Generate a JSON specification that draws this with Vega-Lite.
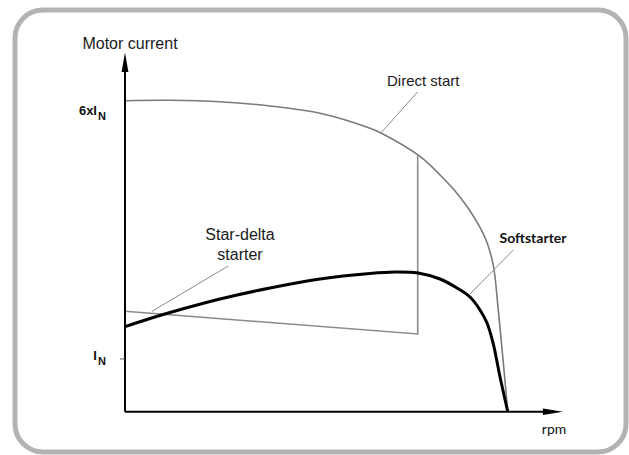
{
  "$schema": "https://vega.github.io/schema/vega-lite/v6.json",
  "width": 611,
  "height": 442,
  "autosize": {"type": "none"},
  "padding": {"left": 15, "top": 10, "right": 3, "bottom": 3},
  "background": "white",
  "config": {
    "view": {"stroke": "#b3b3b3", "strokeWidth": 5, "cornerRadius": 28, "fill": "white"},
    "text": {"font": "Liberation Sans"}
  },
  "datasets": {
    "direct": [
      {"rpm": 0, "current": 5.901},
      {"rpm": 11.76, "current": 5.909},
      {"rpm": 24.82, "current": 5.882},
      {"rpm": 37.89, "current": 5.801},
      {"rpm": 50.95, "current": 5.662},
      {"rpm": 64.02, "current": 5.378},
      {"rpm": 66.89, "current": 5.288},
      {"rpm": 77.08, "current": 4.843},
      {"rpm": 82.31, "current": 4.491},
      {"rpm": 86.23, "current": 4.188},
      {"rpm": 89.63, "current": 3.865},
      {"rpm": 92.24, "current": 3.562},
      {"rpm": 94.33, "current": 3.258},
      {"rpm": 95.38, "current": 3.03},
      {"rpm": 96.16, "current": 2.803},
      {"rpm": 96.68, "current": 2.556},
      {"rpm": 97.2, "current": 2.177},
      {"rpm": 97.99, "current": 1.588},
      {"rpm": 98.9, "current": 0.889},
      {"rpm": 100, "current": 0}
    ],
    "soft": [
      {"rpm": 0, "current": 1.613},
      {"rpm": 6.53, "current": 1.768},
      {"rpm": 11.76, "current": 1.882},
      {"rpm": 24.82, "current": 2.138},
      {"rpm": 37.89, "current": 2.347},
      {"rpm": 50.95, "current": 2.518},
      {"rpm": 64.02, "current": 2.623},
      {"rpm": 70.55, "current": 2.651},
      {"rpm": 76.56, "current": 2.632},
      {"rpm": 82.31, "current": 2.518},
      {"rpm": 86.75, "current": 2.347},
      {"rpm": 90.15, "current": 2.176},
      {"rpm": 92.76, "current": 1.93},
      {"rpm": 94.59, "current": 1.683},
      {"rpm": 96.16, "current": 1.304},
      {"rpm": 97.99, "current": 0.658},
      {"rpm": 100, "current": 0}
    ],
    "stardelta": [
      {"step": 1, "rpm": 0, "current": 1.905},
      {"step": 2, "rpm": 76.48, "current": 1.474},
      {"step": 3, "rpm": 76.48, "current": 4.86}
    ],
    "leaders": [
      {"label": "Direct start", "r1": 76.4, "i1": 6.066, "r2": 66.89, "i2": 5.288},
      {"label": "Star-delta starter", "r1": 26.99, "i1": 2.765, "r2": 6.98, "i2": 1.901},
      {"label": "Softstarter", "r1": 101.46, "i1": 3.068, "r2": 90.15, "i2": 2.233}
    ],
    "axes": [
      {"axis": "current", "r1": 0, "i1": 0, "r2": 0, "i2": 6.632},
      {"axis": "rpm", "r1": 0, "i1": 0, "r2": 111.8, "i2": 0}
    ]
  },
  "layer": [
    {
      "data": {"name": "direct"},
      "mark": {"type": "line", "color": "#7a7a7a", "strokeWidth": 1.6, "interpolate": "catmull-rom"},
      "encoding": {
        "x": {"field": "rpm", "type": "quantitative", "scale": {"domain": [-28.74, 130.9], "nice": false, "zero": false}, "axis": null},
        "y": {"field": "current", "type": "quantitative", "scale": {"domain": [-0.765, 7.622], "nice": false, "zero": false}, "axis": null}
      }
    },
    {
      "data": {"name": "stardelta"},
      "mark": {"type": "line", "color": "#8a8a8a", "strokeWidth": 1.6},
      "encoding": {
        "x": {"field": "rpm", "type": "quantitative"},
        "y": {"field": "current", "type": "quantitative"},
        "order": {"field": "step", "type": "quantitative"}
      }
    },
    {
      "data": {"name": "soft"},
      "mark": {"type": "line", "color": "#000000", "strokeWidth": 3, "interpolate": "catmull-rom"},
      "encoding": {
        "x": {"field": "rpm", "type": "quantitative"},
        "y": {"field": "current", "type": "quantitative"}
      }
    },
    {
      "data": {"name": "leaders"},
      "mark": {"type": "rule", "color": "#8a8a8a", "strokeWidth": 1},
      "encoding": {
        "x": {"field": "r1", "type": "quantitative"},
        "x2": {"field": "r2"},
        "y": {"field": "i1", "type": "quantitative"},
        "y2": {"field": "i2"}
      }
    },
    {
      "data": {"name": "axes"},
      "mark": {"type": "rule", "color": "#000000", "strokeWidth": 2},
      "encoding": {
        "x": {"field": "r1", "type": "quantitative"},
        "x2": {"field": "r2"},
        "y": {"field": "i1", "type": "quantitative"},
        "y2": {"field": "i2"}
      }
    },
    {
      "data": {"values": [{"tick": "I_N", "r1": -1.31, "r2": 0, "current": 1}]},
      "mark": {"type": "rule", "color": "#555555", "strokeWidth": 1},
      "encoding": {
        "x": {"field": "r1", "type": "quantitative"},
        "x2": {"field": "r2"},
        "y": {"field": "current", "type": "quantitative"}
      }
    },
    {
      "data": {"values": [{"rpm": 0, "current": 6.632}]},
      "mark": {"type": "point", "shape": "M0,-1L0.35,1L-0.35,1Z", "size": 380, "filled": true, "color": "#000000", "opacity": 1},
      "encoding": {
        "x": {"field": "rpm", "type": "quantitative"},
        "y": {"field": "current", "type": "quantitative"}
      }
    },
    {
      "data": {"values": [{"rpm": 111.8, "current": 0}]},
      "mark": {"type": "point", "shape": "M1,0L-1,-0.33L-1,0.33Z", "size": 400, "filled": true, "color": "#000000", "opacity": 1},
      "encoding": {
        "x": {"field": "rpm", "type": "quantitative"},
        "y": {"field": "current", "type": "quantitative"}
      }
    },
    {
      "data": {"values": [
        {"text": "Motor current", "rpm": 1.31, "current": 6.977},
        {"text": "Star-delta", "rpm": 30.05, "current": 3.353},
        {"text": "starter", "rpm": 30.05, "current": 2.973}
      ]},
      "mark": {"type": "text", "fontSize": 16, "align": "center", "baseline": "middle", "color": "#1a1a1a"},
      "encoding": {
        "x": {"field": "rpm", "type": "quantitative"},
        "y": {"field": "current", "type": "quantitative"},
        "text": {"field": "text"}
      }
    },
    {
      "data": {"values": [{"text": "Direct start", "rpm": 68.46, "current": 6.275}]},
      "mark": {"type": "text", "fontSize": 15, "align": "left", "baseline": "middle", "color": "#1a1a1a"},
      "encoding": {
        "x": {"field": "rpm", "type": "quantitative"},
        "y": {"field": "current", "type": "quantitative"},
        "text": {"field": "text"}
      }
    },
    {
      "data": {"values": [{"text": "Softstarter", "rpm": 106.6, "current": 3.277}]},
      "mark": {"type": "text", "font": "Lato", "fontWeight": "bold", "fontSize": 14, "align": "center", "baseline": "middle", "color": "#111111"},
      "encoding": {
        "x": {"field": "rpm", "type": "quantitative"},
        "y": {"field": "current", "type": "quantitative"},
        "text": {"field": "text"}
      }
    },
    {
      "data": {"values": [{"text": "rpm", "rpm": 112.1, "current": -0.347}]},
      "mark": {"type": "text", "font": "Lato", "fontSize": 14, "align": "center", "baseline": "middle", "color": "#111111"},
      "encoding": {
        "x": {"field": "rpm", "type": "quantitative"},
        "y": {"field": "current", "type": "quantitative"},
        "text": {"field": "text"}
      }
    },
    {
      "data": {"values": [
        {"text": "6xI", "rpm": -7.32, "current": 5.706},
        {"text": "I", "rpm": -7.32, "current": 1.057}
      ]},
      "mark": {"type": "text", "fontSize": 13, "fontWeight": "bold", "align": "right", "baseline": "middle", "color": "#111111"},
      "encoding": {
        "x": {"field": "rpm", "type": "quantitative"},
        "y": {"field": "current", "type": "quantitative"},
        "text": {"field": "text"}
      }
    },
    {
      "data": {"values": [
        {"text": "N", "rpm": -7.06, "current": 5.6},
        {"text": "N", "rpm": -7.06, "current": 0.943}
      ]},
      "mark": {"type": "text", "fontSize": 11, "fontWeight": "bold", "align": "left", "baseline": "middle", "color": "#111111"},
      "encoding": {
        "x": {"field": "rpm", "type": "quantitative"},
        "y": {"field": "current", "type": "quantitative"},
        "text": {"field": "text"}
      }
    }
  ]
}
